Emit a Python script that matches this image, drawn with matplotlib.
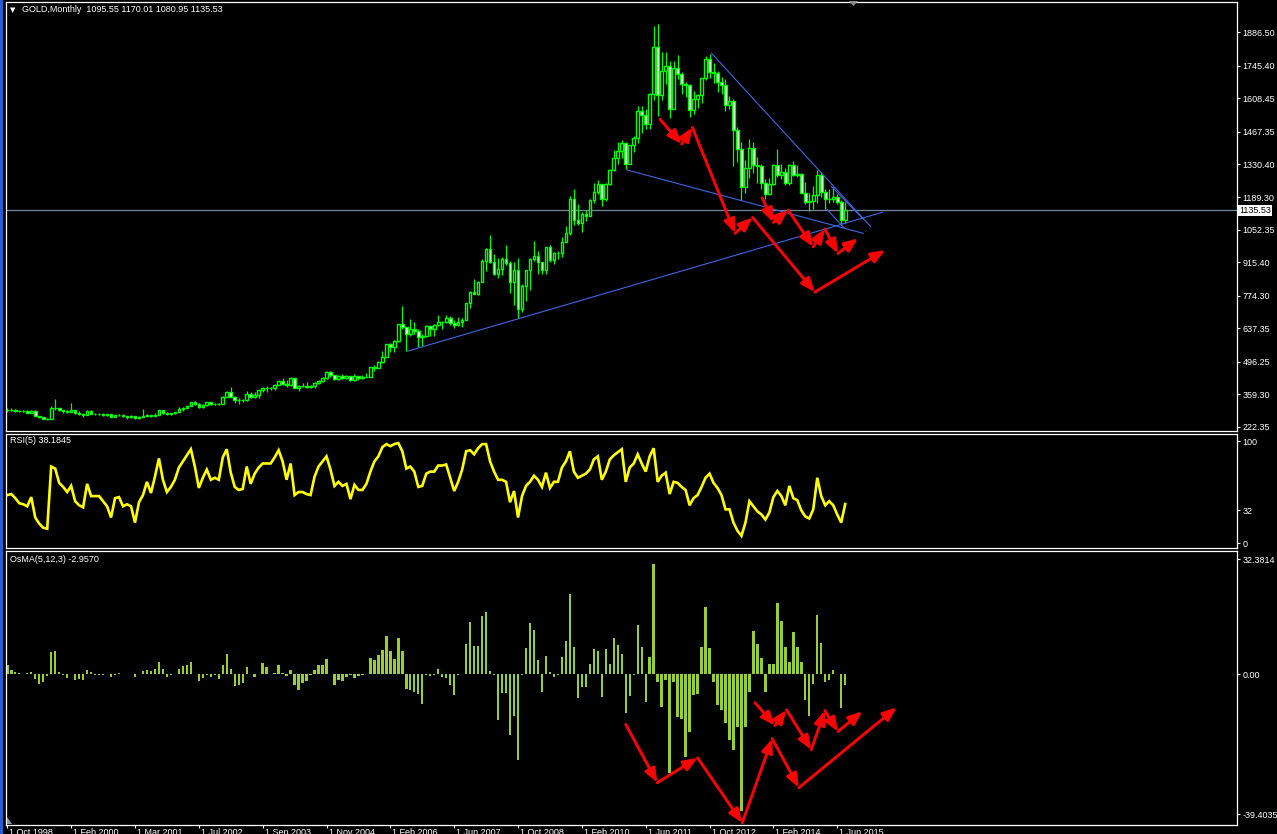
import matplotlib
matplotlib.use("Agg")
import matplotlib.pyplot as plt
import matplotlib.transforms as mtransforms
from matplotlib.patches import Rectangle, Polygon

plt.rcParams["font.family"] = ["Liberation Sans", "DejaVu Sans"]

# monthly OHLC, Oct 1998 .. Aug 2015 (one entry per bar as drawn by the terminal)
opens = [
    293, 292, 294, 288, 287, 287, 279, 286, 268, 261, 255, 254, 299, 299, 291, 288, 283, 293, 278, 275,
    272, 288, 276, 277, 275, 273, 274, 264, 270, 272, 265, 262, 267, 258, 264, 267, 270, 266, 273, 293,
    279, 275, 279, 282, 297, 302, 308, 326, 318, 304, 312, 324, 317, 318, 316, 347, 367, 347, 334, 336,
    333, 361, 346, 354, 375, 385, 386, 384, 398, 416, 402, 396, 426, 387, 394, 395, 391, 392, 408, 415,
    429, 453, 438, 422, 434, 428, 435, 417, 435, 429, 431, 433, 473, 470, 495, 517, 569, 556, 582, 654,
    643, 613, 633, 624, 599, 604, 646, 632, 650, 665, 662, 679, 659, 650, 665, 672, 743, 789, 783, 834,
    923, 972, 916, 865, 886, 928, 913, 833, 884, 718, 815, 882, 928, 942, 916, 884, 979, 927, 955, 955,
    1001, 1040, 1182, 1096, 1081, 1118, 1113, 1179, 1213, 1244, 1181, 1248, 1307, 1357, 1387, 1421, 1332, 1410, 1439, 1556,
    1536, 1500, 1628, 1826, 1620, 1722, 1746, 1564, 1737, 1710, 1669, 1664, 1560, 1604, 1622, 1692, 1773, 1719, 1713, 1675,
    1662, 1578, 1595, 1472, 1393, 1234, 1313, 1396, 1327, 1323, 1250, 1202, 1244, 1326, 1284, 1296, 1250, 1327, 1282, 1287,
    1208, 1171, 1175, 1199, 1283, 1212, 1183, 1183, 1190, 1172, 1095.55,
]
highs = [
    302, 300, 297, 293, 291, 291, 290, 290, 268, 264, 258, 307, 338, 301, 294, 292, 320, 294, 289, 278,
    294, 292, 281, 279, 278, 276, 275, 272, 276, 274, 268, 270, 268, 265, 298, 275, 272, 280, 293, 294,
    285, 281, 284, 303, 305, 310, 327, 331, 322, 316, 326, 325, 323, 320, 350, 372, 388, 352, 341, 339,
    372, 366, 367, 377, 389, 395, 390, 400, 417, 427, 419, 430, 428, 398, 404, 410, 398, 410, 420, 431,
    456, 457, 441, 440, 446, 438, 436, 442, 436, 438, 448, 475, 480, 497, 540, 571, 575, 587, 655, 730,
    643, 676, 665, 635, 612, 650, 650, 657, 691, 667, 693, 690, 672, 683, 681, 745, 795, 846, 838, 930,
    975, 1032, 951, 935, 938, 988, 920, 915, 935, 823, 882, 935, 1005, 963, 918, 980, 990, 960, 964, 1024,
    1070, 1195, 1227, 1162, 1126, 1135, 1181, 1249, 1265, 1244, 1250, 1310, 1388, 1424, 1432, 1424, 1412, 1448, 1576, 1577,
    1561, 1632, 1912, 1921, 1803, 1804, 1764, 1764, 1791, 1718, 1676, 1668, 1640, 1624, 1695, 1788, 1796, 1755, 1723, 1696,
    1691, 1617, 1605, 1487, 1424, 1348, 1434, 1425, 1361, 1330, 1267, 1270, 1332, 1392, 1331, 1315, 1332, 1345, 1325, 1292,
    1255, 1208, 1239, 1307, 1296, 1224, 1224, 1232, 1205, 1178, 1170.01,
]
lows = [
    285, 289, 283, 283, 282, 278, 278, 266, 257, 253, 251, 252, 292, 286, 279, 281, 282, 274, 271, 263,
    270, 275, 270, 272, 268, 266, 263, 262, 267, 262, 255, 258, 255, 255, 263, 265, 263, 265, 270, 275,
    271, 272, 276, 282, 289, 299, 307, 315, 301, 300, 310, 313, 315, 314, 316, 345, 345, 320, 318, 325,
    332, 342, 342, 344, 367, 367, 378, 378, 397, 398, 390, 394, 383, 371, 388, 387, 386, 386, 401, 412,
    425, 430, 417, 418, 424, 422, 414, 413, 418, 425, 430, 432, 457, 468, 490, 516, 538, 535, 580, 635,
    542, 603, 613, 560, 561, 600, 605, 603, 648, 635, 660, 651, 640, 645, 642, 670, 723, 780, 778, 833,
    880, 913, 862, 850, 860, 906, 786, 736, 681, 705, 754, 800, 920, 866, 865, 867, 915, 908, 931, 940,
    1001, 1030, 1075, 1075, 1045, 1088, 1111, 1165, 1204, 1155, 1175, 1242, 1303, 1330, 1356, 1308, 1329, 1381, 1421, 1462,
    1478, 1478, 1600, 1532, 1602, 1667, 1523, 1564, 1688, 1627, 1612, 1527, 1540, 1565, 1590, 1686, 1694, 1672, 1636, 1626,
    1555, 1562, 1321, 1338, 1180, 1208, 1271, 1291, 1251, 1227, 1182, 1200, 1240, 1277, 1268, 1240, 1240, 1281, 1274, 1206,
    1161, 1131, 1142, 1167, 1191, 1142, 1166, 1170, 1162, 1077, 1080.95,
]
closes = [
    292, 294, 288, 287, 287, 279, 286, 268, 261, 255, 254, 299, 299, 291, 288, 283, 293, 278, 275, 272,
    288, 276, 277, 275, 273, 274, 264, 270, 272, 265, 262, 267, 258, 264, 267, 270, 266, 273, 293, 279,
    275, 279, 282, 297, 302, 308, 326, 318, 304, 312, 324, 317, 318, 316, 347, 367, 347, 334, 336, 333,
    361, 346, 354, 375, 385, 386, 384, 398, 416, 402, 396, 426, 387, 394, 395, 391, 392, 408, 415, 429,
    453, 438, 422, 434, 428, 435, 417, 435, 429, 431, 433, 473, 470, 495, 517, 569, 556, 582, 654, 643,
    613, 633, 624, 599, 604, 646, 632, 650, 665, 662, 679, 659, 650, 665, 672, 743, 789, 783, 834, 923,
    972, 916, 865, 886, 928, 913, 833, 884, 718, 815, 882, 928, 942, 916, 884, 979, 927, 955, 955, 1001,
    1040, 1182, 1096, 1081, 1118, 1113, 1179, 1213, 1244, 1181, 1248, 1307, 1357, 1387, 1421, 1332, 1410, 1439, 1556, 1536,
    1500, 1628, 1826, 1620, 1722, 1746, 1564, 1737, 1710, 1669, 1664, 1560, 1604, 1622, 1692, 1773, 1719, 1713, 1675, 1662,
    1578, 1595, 1472, 1393, 1234, 1313, 1396, 1327, 1323, 1250, 1202, 1244, 1326, 1284, 1296, 1250, 1327, 1282, 1287, 1208,
    1171, 1175, 1199, 1283, 1212, 1183, 1183, 1190, 1172, 1095, 1135.53,
]

rsi = [
    47, 48, 44, 39, 38, 36, 45, 25, 19, 15, 14, 75, 73, 59, 55, 50, 56, 41, 37, 35,
    58, 46, 46, 46, 41, 36, 25, 44, 45, 36, 38, 36, 20, 40, 47, 60, 49, 65, 83, 62,
    50, 55, 62, 74, 80, 86, 92, 75, 54, 64, 72, 62, 64, 62, 84, 92, 69, 55, 52, 53,
    75, 58, 68, 74, 78, 78, 78, 84, 91, 80, 62, 78, 47, 50, 50, 48, 47, 65, 75, 80,
    85, 72, 56, 60, 56, 58, 43, 57, 52, 52, 58, 70, 80, 85, 94, 97, 95, 97, 98, 90,
    73, 75, 70, 55, 56, 68, 70, 70, 76, 76, 77, 64, 51, 60, 72, 90, 91, 87, 93, 97,
    97, 80, 70, 62, 62, 60, 40, 51, 25, 46, 56, 60, 66, 62, 55, 69, 54, 60, 60, 74,
    80, 90, 70, 64, 66, 68, 72, 82, 85, 62, 70, 82, 86, 89, 92, 60, 74, 78, 87, 78,
    70, 85, 93, 60, 66, 69, 48, 60, 59, 55, 52, 37, 44, 47, 55, 64, 68, 59, 54, 47,
    33, 33, 20, 12, 7, 20, 41, 36, 31, 28, 23, 30, 45, 51, 46, 37, 56, 44, 42, 32,
    26, 24, 33, 64, 46, 37, 41, 37, 28, 20, 38.18,
]

osma = [
    2.5, 1.1, 0.7, 0.4, 0.2, 0.4, 0.6, -1.2, -2.6, -2.1, -0.5, 6.3, 6.5, 0.7, -0.3, -0.9, 0.2, -1.7, -1.2, -1.7,
    1.3, 0.7, -0.1, -0.3, -0.3, 0.1, -0.7, -0.3, 0.5, 0.1, 0.2, 0.1, -0.7, 0.1, 0.9, 1.3, 0.9, 1.6, 3.6, 1.4,
    -0.7, -0.3, 0.2, 1.6, 2.2, 2.5, 3.5, 0.2, -1.9, -0.9, -0.3, -0.7, -0.3, -1.2, 2.7, 5.6, 1.6, -3.4, -2.9, -2.4,
    2.0, 0.1, -0.7, 0.2, 3.2, 2.0, 0.1, 0.4, 2.7, 0.4, -0.6, 1.1, -3.1, -4.3, -2.4, -1.9, -0.3, 1.1, 2.7, 2.7,
    4.4, 0.2, -3.1, -1.7, -1.9, -0.7, -0.3, -0.9, -0.6, -0.3, 0.2, 4.6, 3.9, 5.4, 6.9, 10.7, 6.7, 4.4, 10.3, 6.5,
    -4.0, -4.3, -4.9, -5.4, -8.4, -0.3, -0.6, -0.3, 1.4, -0.7, -1.0, -3.1, -5.9, -0.3, 0.2, 8.4, 14.7, 7.9, 8.1, 16.3,
    17.5, 0.9, -0.3, -12.9, -5.2, -5.2, -17.1, -11.8, -24.1, -0.3, 7.4, 14.4, 12.5, 3.9, -5.0, 5.1, 0.7, -0.7, -0.3, 5.0,
    9.5, 22.6, 7.7, -6.8, -3.7, -3.7, 3.0, 7.2, 6.5, -6.4, 7.2, 3.0, 10.3, 8.3, 5.8, -10.9, -6.2, -0.3, 13.8, 7.7,
    -7.8, 4.9, 31.0, -2.1, -9.2, -1.7, -27.9, -2.1, -12.0, -12.5, -23.2, -16.2, -5.9, -5.4, 7.7, 18.9, 7.5, -2.1, -8.7, -10.1,
    -13.8, -18.5, -21.3, -14.8, -38.5, -14.8, -5.0, 12.3, 8.6, 4.7, -5.0, 3.0, 3.0, 20.0, 15.0, 7.7, 3.5, 11.9, 7.7, 3.5,
    -7.3, -11.8, -2.6, 16.6, 8.8, -2.1, -1.7, 1.1, 0.2, -9.4, -2.957,
]

tick_bars = [0, 16, 32, 48, 64, 80, 96, 112, 128, 144, 160, 176, 192, 208]
tick_labels = ["1 Oct 1998", "1 Feb 2000", "1 Mar 2001", "1 Jul 2002", "1 Sep 2003", "1 Nov 2004",
               "1 Feb 2006", "1 Jun 2007", "1 Oct 2008", "1 Feb 2010", "1 Jun 2011", "1 Oct 2012",
               "1 Feb 2014", "1 Jun 2015"]
price_ticks = [222.35, 359.30, 496.25, 637.35, 774.30, 915.40, 1052.35, 1189.30, 1330.40,
               1467.35, 1608.45, 1745.40, 1886.50]
price_tick_labels = ["222.35", "359.30", "496.25", "637.35", "774.30", "915.40", "1052.35", "1189.30",
                     "1330.40", "1467.35", "1608.45", "1745.40", "1886.50"]
rsi_ticks = [0, 32, 100]
osma_ticks = [-39.4035, 0.0, 32.3814]
osma_tick_labels = ["-39.4035", "0.00", "32.3814"]
last_price = 1135.53

# drawn objects: trendlines and hand-drawn arrows (bar index, value)
trend_lines = [((176.5, 1798), (216.4, 1066)),
               ((155.4, 1305), (214.5, 1038)),
               ((100.4, 541), (219.4, 1127)),
               ((206.6, 1235), (214.5, 1098)),
               ((205.4, 1140), (209.8, 1059))]
price_arrows = [
    [(163.6, 1519), (169.0, 1415), (171.7, 1485), (182.4, 1038), (186.8, 1105), (202.4, 790), (220.0, 967)],
    [(189.2, 1188), (192.0, 1084), (195.7, 1136), (202.0, 981), (204.9, 1056), (208.2, 953), (213.2, 1017)],
]
osma_arrows = [
    [(155.0, -14.1), (162.9, -30.5), (173.0, -23.5), (184.2, -41.8), (191.7, -18.1), (198.4, -31.9), (222.9, -9.3)],
    [(187.4, -8.0), (192.4, -14.4), (195.3, -10.0), (201.5, -21.2), (204.9, -10.2), (208.2, -16.1), (214.3, -10.4)],
]

GREEN = "#00FF00"
W, H = 1277, 834
fig = plt.figure(figsize=(W / 100, H / 100), dpi=100, facecolor="black")


def panel(top, bottom):
    ax = fig.add_axes([6 / W, 1 - bottom / H, 1231 / W, (bottom - top) / H])
    ax.set_facecolor("black")
    for sp in ax.spines.values():
        sp.set_color("white")
        sp.set_linewidth(0.9)
    ax.set_xlim(-0.33, 308.2)
    ax.yaxis.tick_right()
    ax.tick_params(axis="y", direction="out", length=2.5, width=0.8, colors="white",
                   labelsize=6.5, pad=1.5)
    ax.tick_params(axis="x", bottom=False, labelbottom=False)
    return ax


ax_p = panel(2, 431)
ax_r = panel(433.5, 548)
ax_o = panel(551, 825)

# price candles
for i in range(len(closes)):
    o, h, l, c = opens[i], highs[i], lows[i], closes[i]
    ax_p.vlines(i, l, h, color=GREEN, lw=0.9, zorder=2)
    fill = "black" if c >= o else "white"
    ax_p.add_patch(Rectangle((i - 0.33, min(o, c)), 0.66, max(abs(c - o), 1.0),
                             facecolor=fill, edgecolor=GREEN, lw=1.0, zorder=3))
ax_p.set_ylim(203.4, 2014.4)
ax_p.set_yticks(price_ticks)
ax_p.set_yticklabels(price_tick_labels)
ax_p.axhline(last_price, color="#778899", lw=0.9, zorder=1)
for (x0, y0), (x1, y1) in trend_lines:
    ax_p.plot([x0, x1], [y0, y1], color="#3f66e0", lw=0.8, zorder=4)
ax_p.text(1.0 + 2 / 1231, last_price, f"{last_price:.2f}",
          transform=mtransforms.blended_transform_factory(ax_p.transAxes, ax_p.transData),
          color="black", fontsize=6.5, va="center", ha="left",
          bbox=dict(facecolor="white", edgecolor="none", pad=0.8), zorder=6, clip_on=False)

# RSI
ax_r.plot(range(len(rsi)), rsi, color="#FFFF00", lw=1.9, solid_joinstyle="miter")
ax_r.set_ylim(-4.9, 107.4)
ax_r.set_yticks(rsi_ticks)
ax_r.set_yticklabels([str(v) for v in rsi_ticks])

# OsMA histogram
ax_o.bar(range(len(osma)), osma, width=0.6, color="#9ACD32", linewidth=0)
ax_o.set_ylim(-42.4, 34.7)
ax_o.set_yticks(osma_ticks)
ax_o.set_yticklabels(osma_tick_labels)
ax_o.set_xticks(tick_bars)
ax_o.set_xticklabels(tick_labels)
ax_o.tick_params(axis="x", bottom=True, labelbottom=True, direction="out", length=2.2, width=0.8,
                 colors="white", labelsize=6.5, pad=0.2)
shift = mtransforms.ScaledTranslation(2 / 100, 0, fig.dpi_scale_trans)
for lab in ax_o.get_xticklabels():
    lab.set_horizontalalignment("left")
    lab.set_transform(lab.get_transform() + shift)


def zigzag(ax, pts):
    for (x0, y0), (x1, y1) in zip(pts[:-1], pts[1:]):
        ax.annotate("", xy=(x1, y1), xytext=(x0, y0),
                    arrowprops=dict(arrowstyle="-|>,head_length=0.75,head_width=0.3", color="#FF0000",
                                    lw=2.1, shrinkA=0, shrinkB=0, mutation_scale=11),
                    zorder=8)


for pts in price_arrows:
    zigzag(ax_p, pts)
for pts in osma_arrows:
    zigzag(ax_o, pts)

# labels in the panels
fig.text(10 / W, 1 - 10 / H, "\u25bc", color="white", fontsize=5, va="center", family="DejaVu Sans")
fig.text(22 / W, 1 - 10 / H, "GOLD,Monthly  1095.55 1170.01 1080.95 1135.53", color="white",
         fontsize=6.5, va="center")
fig.text(10 / W, 1 - 440.5 / H, "RSI(5) 38.1845", color="white", fontsize=6.5, va="center")
fig.text(10 / W, 1 - 560 / H, "OsMA(5,12,3) -2.9570", color="white", fontsize=6.5, va="center")

# window furniture
fig.patches.append(Rectangle((0, 0), 3 / W, 1, transform=fig.transFigure, facecolor="#2a5bd7",
                             edgecolor="none"))
fig.patches.append(Polygon([(849 / W, 1 - 1 / H), (858 / W, 1 - 1 / H), (853.5 / W, 1 - 6 / H)],
                           closed=True, transform=fig.transFigure, facecolor="#8a8a8a", edgecolor="none"))
fig.patches.append(Polygon([(7 / W, 1 - 817 / H), (7 / W, 1 - 824 / H), (12 / W, 1 - 824 / H)],
                           closed=True, transform=fig.transFigure, facecolor="#8a9aaa", edgecolor="none"))

fig.savefig("out.png", dpi=100, facecolor="black")
